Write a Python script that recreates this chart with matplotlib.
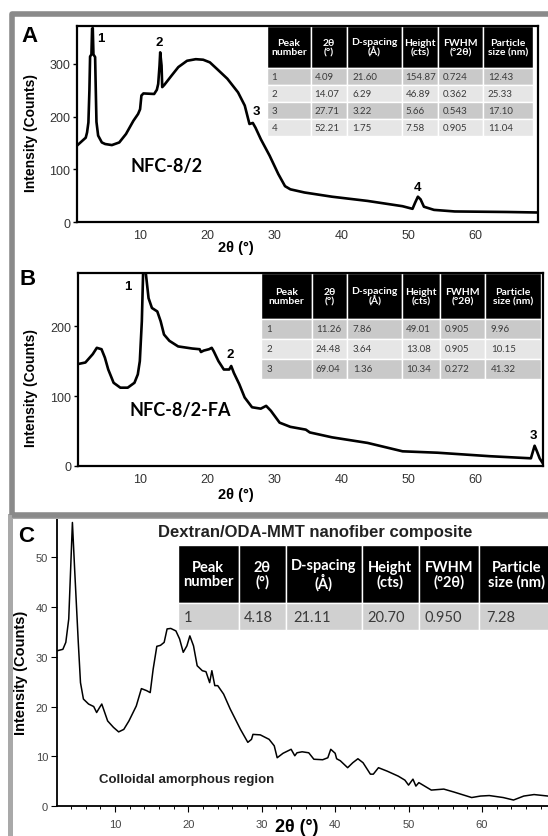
import matplotlib.pyplot as plt
from matplotlib.patches import Rectangle

plt.rcParams['font.family'] = ['Liberation Sans', 'DejaVu Sans']

W, H = 548, 837

# ---------------- Panel A: NFC-8/2 ----------------
a_x = [0.6, 1.9, 2.1, 2.3, 2.45, 2.55, 2.75, 2.85, 2.95, 3.05, 3.3, 3.4, 3.5,
       3.75, 4.3, 4.8, 5.8, 6.9, 7.9, 9.0, 9.7, 10.0, 10.2, 10.5, 12.1, 12.5,
       12.7, 12.9, 13.0, 13.2, 13.3, 13.6, 14.7, 15.7, 17.0, 18.3, 19.4, 20.4,
       21.5, 23.0, 24.6, 25.6, 26.3, 26.8, 27.2, 28.0, 29.3, 30.6, 31.6, 32.4,
       34.5, 38.6, 43.9, 49.1, 50.6, 51.0, 51.4, 51.8, 52.3, 53.8, 56.9, 64.7,
       69.4]
a_y = [145, 160, 170, 189, 250, 314, 318, 367, 368, 318, 313, 250, 190,
       164, 151, 148, 146, 151, 167, 192, 205, 214, 240, 244, 243, 251,
       262, 297, 322, 297, 256, 260, 278, 294, 306, 309, 308, 303,
       290, 272, 246, 221, 186, 188, 179, 157, 126, 91, 68, 62,
       56, 48, 40, 30, 25, 37, 48, 43, 29, 23, 20, 19,
       18]
a_peak_num = ['1', '2', '3', '4']
a_peak_x = [4.2, 12.9, 27.3, 51.4]
a_peak_y = [349, 341, 211, 67]

# ---------------- Panel B: NFC-8/2-FA ----------------
b_x = [0.9, 1.9, 3.0, 3.6, 4.3, 4.8, 5.3, 6.1, 7.1, 8.2, 9.2, 9.7, 10.0,
       10.3, 10.5, 10.9, 11.3, 11.8, 12.6, 13.1, 13.6, 14.4, 15.7, 17.8,
       18.9, 19.1, 19.5, 20.3, 20.7, 21.0, 21.7, 22.5, 23.3, 23.6, 24.0,
       24.8, 25.6, 26.7, 28.0, 28.8, 29.5, 30.8, 32.4, 34.7, 35.3, 38.6,
       43.9, 49.1, 54.3, 62.1, 68.2, 68.75, 69.1, 69.5, 69.9]
b_y = [146, 148, 160, 169, 167, 155, 138, 119, 112, 112, 119, 131, 150,
       207, 280, 275, 240, 226, 221, 207, 188, 179, 171, 168,
       167, 163, 165, 167, 169, 164, 150, 138, 138, 143, 133,
       117, 98, 84, 82, 86, 79, 62, 56, 52, 48, 41,
       33, 21, 19, 14, 11, 29, 21, 11, 5]
b_peak_num = ['1', '2', '3']
b_peak_x = [8.2, 23.5, 68.6]
b_peak_y = [257, 160, 44]

# ---------------- Panel C: Dextran/ODA-MMT ----------------
c_x = [2.1, 2.9, 3.3, 3.7, 4.2, 4.5, 5.0, 5.3, 5.7, 6.4, 7.1, 7.5, 7.9, 8.2,
       8.6, 9.0, 9.8, 10.5, 11.2, 11.9, 12.9, 13.6, 14.3, 14.8, 15.2, 15.7,
       16.2, 16.7, 17.1, 17.6, 18.3, 18.8, 19.3, 19.8, 20.2, 20.7, 21.2,
       21.9, 22.4, 22.9, 23.2, 23.6, 24.0, 24.8, 25.7, 27.1, 28.1, 28.6,
       28.8, 29.8, 31.0, 31.7, 32.1, 32.9, 34.0, 34.5, 34.8, 35.5, 36.4,
       37.1, 38.3, 39.0, 39.4, 40.0, 40.2, 40.7, 41.7, 42.4, 43.1, 43.8,
       44.8, 45.2, 45.9, 47.1, 48.6, 49.5, 50.0, 50.6, 51.0, 51.4, 53.1,
       54.8, 56.2, 58.6, 59.8, 61.0, 62.9, 64.3, 65.7, 67.1, 69.0]
c_y = [31.2, 31.5, 32.9, 37.6, 57.0, 47.7, 32.9, 24.8, 21.5, 20.5, 20.0,
       18.8, 19.8, 20.5, 18.8, 17.1, 15.8, 14.9, 15.4, 17.1, 20.1, 23.6,
       23.2, 22.8, 27.5, 32.1, 32.3, 32.9, 35.6, 35.7, 35.2, 33.6, 30.9,
       32.2, 34.2, 32.2, 28.2, 27.2, 27.0, 24.8, 27.2, 24.2, 24.2, 22.5,
       19.5, 15.4, 12.8, 13.4, 14.4, 14.3, 13.4, 12.1, 9.7, 10.6, 11.4,
       10.1, 10.7, 10.9, 10.7, 9.4, 9.3, 9.7, 11.4, 10.6, 9.5, 9.1, 7.7,
       8.7, 9.5, 8.7, 6.4, 6.4, 7.7, 7.0, 6.0, 5.2, 4.2, 5.4, 4.0, 4.7,
       3.2, 3.4, 2.8, 1.7, 2.0, 2.1, 1.7, 1.2, 2.0, 2.3, 2.0]

# ---------------- tables ----------------
tab_header = ['Peak\nnumber', '2θ\n(°)', 'D-spacing\n(Å)', 'Height\n(cts)',
              'FWHM\n(°2θ)', 'Particle\nsize (nm)']
tab_a = [['1', '4.09', '21.60', '154.87', '0.724', '12.43'],
         ['2', '14.07', '6.29', '46.89', '0.362', '25.33'],
         ['3', '27.71', '3.22', '5.66', '0.543', '17.10'],
         ['4', '52.21', '1.75', '7.58', '0.905', '11.04']]
tab_b = [['1', '11.26', '7.86', '49.01', '0.905', '9.96'],
         ['2', '24.48', '3.64', '13.08', '0.905', '10.15'],
         ['3', '69.04', '1.36', '10.34', '0.272', '41.32']]
tab_c = [['1', '4.18', '21.11', '20.70', '0.950', '7.28']]


def px_axes(l, t, r, b):
    # pixel box of the scanned figure -> figure fraction
    return [l / W, 1 - b / H, (r - l) / W, (b - t) / H]


def add_table(ax, rows, bbox, widths, head_h, row_h, hsize, bsize, shades):
    tab = ax.table(cellText=rows, colLabels=tab_header, colWidths=widths,
                   cellLoc='left', colLoc='center', bbox=bbox)
    tab.auto_set_font_size(False)
    for (r, c), cell in tab.get_celld().items():
        cell.set_edgecolor('white')
        cell.set_linewidth(1.0)
        cell.set_height(head_h if r == 0 else row_h)
        txt = cell.get_text()
        txt.set_fontfamily(['Lato', 'DejaVu Sans'])
        if r == 0:
            cell.set_facecolor('black')
            txt.set_color('white')
            txt.set_fontweight('bold')
            txt.set_fontsize(hsize)
            txt.set_linespacing(1.05)
        else:
            cell.set_facecolor(shades[(r - 1) % 2])
            txt.set_color('#3a3a3a')
            txt.set_fontsize(bsize)
    return tab


fig = plt.figure(figsize=(W / 100, H / 100), dpi=100)

# gray frames
fig.patches.append(Rectangle((9.5 / W, -0.1), 1.2, (H - 517) / H + 0.1,
                             transform=fig.transFigure, fill=False,
                             edgecolor='#a9a9a9', linewidth=3.6))
fig.patches.append(Rectangle((12 / W, 1 - 515.5 / H), 1.2, 501 / H,
                             transform=fig.transFigure, fill=False,
                             edgecolor='#8a8a8a', linewidth=4.0,
                             joinstyle='round'))

# ---- A ----
axA = fig.add_axes(px_axes(77, 27, 538, 223))
axA.plot(a_x, a_y, color='black', lw=1.9)
axA.set_xlim(0.6, 69.3)
axA.set_ylim(0, 372)
axA.set_yticks([0, 100, 200, 300])
axA.set_xticks([10, 20, 30, 40, 50, 60])
for n, x, y in zip(a_peak_num, a_peak_x, a_peak_y):
    axA.text(x, y, n, ha='center', va='center', fontsize=9.5, fontweight='bold')
axA.text(14.0, 107, 'NFC-8/2', ha='center', va='center', fontsize=13,
         fontweight='bold', family=['Lato', 'DejaVu Sans'])
add_table(axA, tab_a, [0.412, 0.439, 0.577, 0.561],
          [44, 36, 55, 36, 45, 50], 42, 17, 7.5, 7, ['#c9c9c9', '#e6e6e6'])

# ---- B ----
axB = fig.add_axes(px_axes(78, 274, 543, 467))
axB.plot(b_x, b_y, color='black', lw=1.9)
axB.set_xlim(0.8, 70.0)
axB.set_ylim(0, 276)
axB.set_yticks([0, 100, 200])
axB.set_xticks([10, 20, 30, 40, 50, 60])
for n, x, y in zip(b_peak_num, b_peak_x, b_peak_y):
    axB.text(x, y, n, ha='center', va='center', fontsize=9.5, fontweight='bold')
axB.text(16.0, 81, 'NFC-8/2-FA', ha='center', va='center', fontsize=13,
         fontweight='bold', family=['Lato', 'DejaVu Sans'])
add_table(axB, tab_b, [0.394, 0.451, 0.602, 0.549],
          [51, 35, 55, 38, 45, 56], 46, 20, 7.5, 7, ['#c9c9c9', '#e6e6e6'])

for ax, ylx, yly, xlx, xly in [(axA, -0.1, 0.46, 0.345, -0.13),
                                (axB, -0.101, 0.41, 0.34, -0.145)]:
    for s in ax.spines.values():
        s.set_linewidth(1.6)
    ax.tick_params(axis='y', length=3, width=1, labelsize=9,
                   labelcolor='#333333', pad=2)
    ax.tick_params(axis='x', length=0, labelsize=9, labelcolor='#333333', pad=5)
    ax.set_ylabel('Intensity (Counts)', fontsize=10, fontweight='bold',
                  va='center')
    ax.yaxis.set_label_coords(ylx, yly)
    ax.set_xlabel('2θ (°)', fontsize=10.5, fontweight='bold', va='center')
    ax.xaxis.set_label_coords(xlx, xly)

# ---- C ----
axC = fig.add_axes(px_axes(57, 520, 548, 807))
axC.plot(c_x, c_y, color='black', lw=1.1)
axC.set_xlim(2.1, 69.0)
axC.set_ylim(0, 57.7)
axC.set_yticks([0, 10, 20, 30, 40, 50])
axC.set_xticks([10, 20, 30, 40, 50, 60])
axC.set_xticks(range(4, 70, 2), minor=True)
axC.spines['top'].set_visible(False)
axC.spines['right'].set_visible(False)
axC.spines['left'].set_linewidth(1.3)
axC.spines['bottom'].set_linewidth(1.3)
axC.tick_params(axis='both', which='major', length=4.5, width=0.8,
                labelsize=8, labelcolor='#444444', pad=2)
axC.tick_params(axis='x', which='major', pad=5)
axC.tick_params(axis='x', which='minor', length=2.5, width=0.7)
axC.set_ylabel('Intensity (Counts)', fontsize=10.5, fontweight='bold',
               va='center')
axC.yaxis.set_label_coords(-0.073, 0.467)
axC.set_xlabel('2θ (°)', fontsize=13, fontweight='bold', va='center')
axC.xaxis.set_label_coords(0.489, -0.073)
axC.text(7.8, 5.5, 'Colloidal amorphous region', ha='left', va='center',
         fontsize=9.5, fontweight='bold', color='#222222')
add_table(axC, tab_c, [0.246, 0.613, 0.768, 0.296],
          [61, 47, 76, 57, 60, 76], 58, 27, 10.5, 10.5,
          ['#d0d0d0', '#d0d0d0'])

fig.text(315 / W, 1 - 533 / H, 'Dextran/ODA-MMT nanofiber composite',
         ha='center', va='center', fontsize=12, fontweight='bold',
         color='#222222')

# panel letters
for lab, x, y in [('A', 30, 37), ('B', 28, 280), ('C', 26, 537)]:
    fig.text(x / W, 1 - y / H, lab, ha='center', va='center', fontsize=16,
             fontweight='bold')

fig.savefig('out.png', dpi=100)
